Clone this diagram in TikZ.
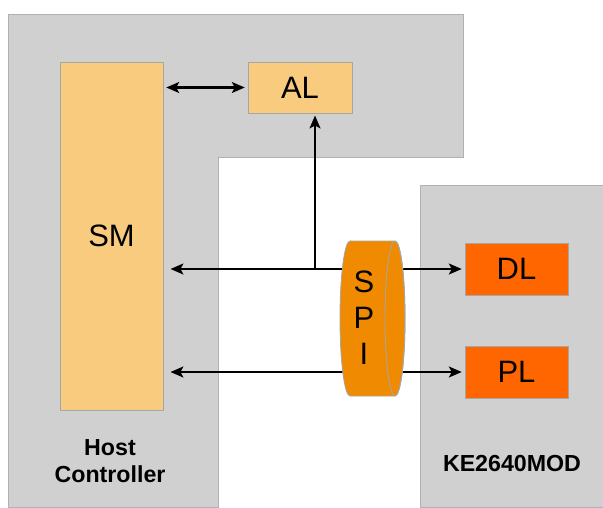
\documentclass[tikz,border=0pt]{standalone}
\usepackage{fontspec}
\setmainfont{Liberation Sans}
\usepackage{tikz}
\usetikzlibrary{arrows.meta,calc,positioning}

\definecolor{panelgray}{HTML}{D0D0D0}
\definecolor{edgegray}{HTML}{A6A6A6}
\definecolor{lightorange}{HTML}{F8CB7F}
\definecolor{hotorange}{HTML}{FF6600}
\definecolor{spiorange}{HTML}{F08A00}

\begin{document}
\begin{tikzpicture}[
  x=0.025cm, y=-0.025cm,
  panel/.style={fill=panelgray,draw=panelgray!85!black,line width=0.4pt},
  block/.style={rectangle,draw=edgegray,line width=0.6pt,inner sep=0pt,
                font=\fontsize{22}{26}\selectfont},
  hostblock/.style={block,fill=lightorange},
  modblock/.style={block,fill=hotorange,minimum width=2.575cm,minimum height=1.3cm},
  link/.style={line width=1.7pt,{Stealth[length=3.2mm,width=2.7mm,inset=0.7mm]}-{Stealth[length=3.2mm,width=2.7mm,inset=0.7mm]}},
  uplink/.style={line width=1.7pt,-{Stealth[length=3.2mm,width=2.7mm,inset=0.7mm]}},
  caption/.style={font=\fontsize{16.5}{19.5}\selectfont\bfseries,align=center}
]
\useasboundingbox (0,0) rectangle (603,507);

% gray panels
\fill[panel] (8,14) -- (463,14) -- (463,157) -- (218,157) -- (218,507) -- (8,507) -- cycle;
\fill[panel] (420,185) rectangle (603,507);

% blocks
\node[hostblock,minimum width=2.575cm,minimum height=8.7cm]  (SM) at (111.5,236)  {SM};
\node[hostblock,minimum width=2.6cm,minimum height=1.275cm]  (AL) at (300,87.5)   {AL};
\node[modblock] (DL) at (516.5,269) {DL};
\node[modblock] (PL) at (516.5,372) {PL};

\node[caption] (host) at (110,461) {Host\\Controller};
\node[caption] (mod)  at (512,464) {KE2640MOD};

% connectors
\coordinate (tap) at (315,269);
\draw[link,shorten <=2pt,shorten >=2pt] (SM.east |- AL.west) -- (AL.west);
\draw[link,shorten <=5pt,shorten >=2pt] (SM.east |- DL.west) -- (DL.west);
\draw[link,shorten <=5pt,shorten >=2pt] (SM.east |- PL.west) -- (PL.west);
\draw[uplink,shorten >=1.5pt] (tap) -- (tap |- AL.south);

% SPI cylinder
\draw[fill=spiorange,draw=edgegray,line width=0.6pt]
  (350,241) -- (395,241) arc[start angle=90,end angle=-90,x radius=0.25cm,y radius=1.9375cm]
  -- (350,396) arc[start angle=270,end angle=90,x radius=0.25cm,y radius=1.9375cm] -- cycle;
\draw[draw=edgegray,line width=0.6pt] (395,318.5) ellipse[x radius=0.25cm,y radius=1.9375cm];
\node[font=\fontsize{22}{25.5}\selectfont,align=center] (SPI) at (364,318) {S\\P\\I};
\end{tikzpicture}
\end{document}
